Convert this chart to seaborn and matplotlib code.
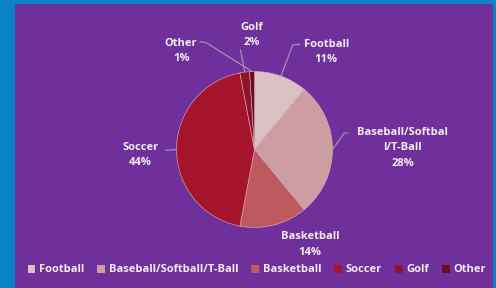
import numpy as np
import seaborn as sns
import matplotlib.pyplot as plt
from matplotlib.patches import Rectangle

sports = ['Football', 'Baseball/Softball/T-Ball', 'Basketball', 'Soccer', 'Golf', 'Other']
pie_labels = ['Football', 'Baseball/Softbal\nl/T-Ball', 'Basketball', 'Soccer', 'Golf', 'Other']
shares = [11, 28, 14, 44, 2, 1]
colors = ['#dcbfc2', '#cc9da1', '#bf5960', '#a5142a', '#8f1428', '#700b1e']

# label spots in pie-radius units (center = 0,0)
label_pos = [(0.92, 1.25), (1.90, 0.02), (0.71, -1.22), (-1.46, -0.07), (-0.04, 1.47), (-0.94, 1.26)]
# where each leader line leaves its label (None = no line)
leader_start = [[(0.58, 1.35), (0.49, 1.34)], [(1.20, 0.21), (1.15, 0.21)], None,
                [(-1.14, -0.01)], [(-0.18, 1.28)], [(-0.70, 1.38), (-0.62, 1.37)]]

sns.set_theme(style='white')
plt.rcParams['font.family'] = ['Open Sans', 'DejaVu Sans']
txt_color = '#f3ecf3'

fig = plt.figure(figsize=(4.96, 2.88), dpi=100)
fig.patch.set_facecolor('#0a82c6')
fig.patches.append(Rectangle((15 / 496, 0), 478 / 496, 284 / 288, transform=fig.transFigure,
                             facecolor='#70309b', edgecolor='none', zorder=-5))

ax = fig.add_axes([0, 0, 1, 1])
ax.set_facecolor('none')
ax.set_zorder(2)

wedges, _ = ax.pie(shares, colors=colors, startangle=90, counterclock=False,
                   radius=1.0, wedgeprops=dict(edgecolor='#d8b8c8', linewidth=0.4))

for w, lab, val, (lx, ly), lead in zip(wedges, pie_labels, shares, label_pos, leader_start):
    ax.text(lx, ly, f'{lab}\n{val}%', ha='center', va='center', color=txt_color,
            fontsize=8, fontweight='bold', linespacing=1.55)
    if lead:
        ang = np.deg2rad((w.theta1 + w.theta2) / 2)
        pts = np.array(lead + [(np.cos(ang), np.sin(ang))])
        ax.plot(pts[:, 0], pts[:, 1], color='#a293ad', lw=0.9, zorder=0)

ax.set_xlim(-254.5 / 78, (496 - 254.5) / 78)
ax.set_ylim(-(288 - 149.5) / 78, 149.5 / 78)
ax.set_aspect('auto')
ax.axis('off')

leg = fig.legend(wedges, sports, loc='center', bbox_to_anchor=(0.518, 18 / 288), ncol=6,
                 frameon=False, handlelength=0.7, handleheight=0.7, handletextpad=0.35,
                 columnspacing=1.15, borderaxespad=0, prop=dict(size=8, weight='bold'))
for t in leg.get_texts():
    t.set_color(txt_color)
for h in leg.legend_handles:
    h.set_linewidth(0)

fig.savefig('out.png', dpi=100)
